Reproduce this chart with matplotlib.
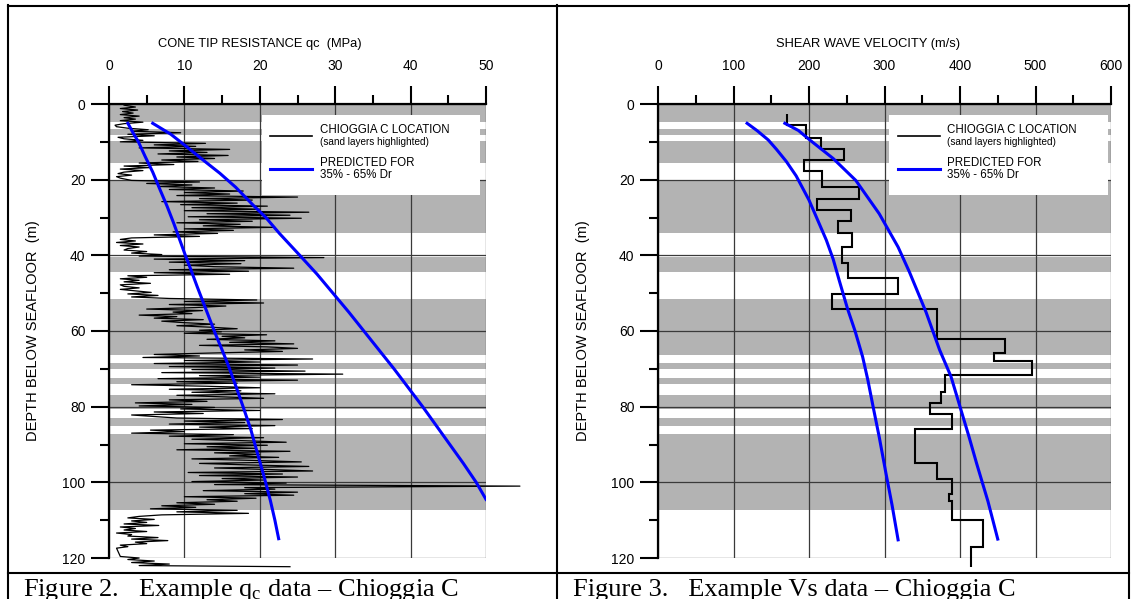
import numpy as np
import matplotlib
matplotlib.use('Agg')
import matplotlib.pyplot as plt
from matplotlib.lines import Line2D
from matplotlib.patches import Rectangle
from matplotlib.ticker import MultipleLocator

plt.rcParams['font.family'] = ['Liberation Sans', 'DejaVu Sans']
plt.rcParams['mathtext.fontset'] = 'custom'
plt.rcParams['mathtext.rm'] = 'Liberation Serif'
plt.rcParams['mathtext.it'] = 'Liberation Serif:italic'

# sand layers (top, bottom) in m below seafloor
sand_layers = [(0, 4.7), (6.7, 8.2), (9.7, 15.6), (20.3, 34.1), (40.5, 44.5),
               (51.5, 66.3), (68.4, 70.1), (72.5, 74.1), (77.0, 80.5),
               (82.9, 85.1), (87.3, 107.4)]

# CPT trace at Chioggia C: depth (m), qc (MPa)
cpt_depth = [0.3, 0.8, 1.2, 1.6, 2.0, 2.4, 2.8, 3.2, 3.6, 4.0, 4.4, 4.8, 5.2, 5.6,
             6.0, 6.4, 6.8, 7.2, 7.6, 8.0, 8.4, 8.8, 9.2, 9.6, 10.0, 10.4, 10.8,
             11.2, 11.6, 12.0, 12.4, 12.8, 13.2, 13.6, 14.0, 14.4, 14.8, 15.2,
             15.6, 16.0, 16.4, 16.8, 17.2, 17.6, 18.0, 18.4, 18.8, 19.2, 19.6,
             20.2, 20.6, 21.0, 21.4, 21.8, 22.2, 22.6, 23.0, 23.4, 23.8, 24.2,
             24.6, 25.0, 25.4, 25.8, 26.2, 26.6, 27.0, 27.4, 27.8, 28.2, 28.6,
             29.0, 29.4, 29.8, 30.2, 30.6, 31.0, 31.4, 31.8, 32.2, 32.6, 33.0,
             33.4, 33.8, 34.2, 34.6, 35.0, 35.4, 35.8, 36.2, 36.6, 37.0, 37.4,
             37.8, 38.2, 38.6, 39.0, 39.4, 39.8, 40.2, 40.6, 41.0, 41.4, 41.8,
             42.2, 42.6, 43.0, 43.4, 43.8, 44.2, 44.6, 45.0, 45.4, 45.8, 46.2,
             46.6, 47.0, 47.4, 47.8, 48.2, 48.6, 49.0, 49.4, 49.8, 50.2, 50.6,
             51.0, 51.4, 51.8, 52.2, 52.6, 53.0, 53.4, 53.8, 54.2, 54.6, 55.0,
             55.4, 55.8, 56.2, 56.6, 57.0, 57.4, 57.8, 58.2, 58.6, 59.0, 59.4,
             59.8, 60.2, 60.6, 61.0, 61.4, 61.8, 62.2, 62.6, 63.0, 63.4, 63.8,
             64.2, 64.6, 65.0, 65.4, 65.8, 66.2, 66.6, 67.0, 67.4, 67.8, 68.2,
             68.6, 69.0, 69.4, 69.8, 70.2, 70.6, 71.0, 71.4, 71.8, 72.2, 72.6,
             73.0, 73.4, 73.8, 74.2, 74.6, 75.0, 75.4, 75.8, 76.2, 76.6, 77.0,
             77.4, 77.8, 78.2, 78.6, 79.0, 79.4, 79.8, 80.2, 80.6, 81.0, 81.4,
             81.8, 82.2, 82.6, 83.0, 83.4, 83.8, 84.2, 84.6, 85.0, 85.4, 85.8,
             86.2, 86.6, 87.0, 87.4, 87.8, 88.2, 88.6, 89.0, 89.4, 89.8, 90.2,
             90.6, 91.0, 91.4, 91.8, 92.2, 92.6, 93.0, 93.4, 93.8, 94.2, 94.6,
             95.0, 95.4, 95.8, 96.2, 96.6, 97.0, 97.4, 97.8, 98.2, 98.6, 99.0,
             99.4, 99.8, 100.2, 100.6, 101.0, 101.4, 101.8, 102.2, 102.6, 103.0,
             103.4, 103.8, 104.2, 104.6, 105.0, 105.4, 105.8, 106.2, 106.6,
             107.0, 107.4, 107.8, 108.2, 108.6, 109.0, 109.4, 109.8, 110.2,
             110.6, 111.0, 111.4, 111.8, 112.2, 112.6, 113.0, 113.4, 113.8,
             114.2, 114.6, 115.0, 115.4, 115.8, 116.2, 116.6, 117.0, 117.4,
             119.6, 120.0, 120.4, 120.8, 121.2, 121.6, 122.0, 122.3]
cpt_qc = [2.0, 3.5, 1.5, 3.8, 1.8, 3.2, 1.5, 4.0, 2.0, 3.5, 1.5, 4.5, 2.0, 0.8,
          1.0, 2.5, 5.2, 3.0, 9.5, 2.5, 6.0, 1.2, 2.0, 4.5, 1.5, 12.8, 6.0,
          11.5, 4.0, 16.0, 8.0, 13.0, 6.5, 15.8, 9.0, 14.0, 7.0, 11.8,
          4.0, 8.6, 2.0, 5.5, 1.5, 4.5, 2.0, 1.2, 3.0, 1.0, 1.5,
          3.0, 12.0, 5.0, 11.0, 6.5, 14.0, 8.0, 17.8, 10.0, 16.0, 9.0,
          25.0, 12.0, 19.0, 7.0, 17.0, 9.5, 21.0, 11.0, 20.0, 10.0, 26.5,
          13.0, 24.0, 10.5, 25.5, 12.0, 19.0, 9.0, 17.4, 12.5, 22.0, 10.0,
          16.5, 8.5, 14.4, 6.0, 12.0, 3.0, 1.5, 3.5, 1.0, 4.5, 1.5,
          4.0, 2.5, 2.0, 5.0, 3.0, 7.0, 4.0, 28.5, 6.0, 18.0, 8.0,
          17.5, 10.0, 14.0, 24.5, 8.0, 18.5, 6.0, 16.0, 2.5, 5.0, 1.5,
          4.0, 2.0, 5.5, 1.5, 2.0, 4.0, 1.5, 3.5, 5.6, 2.5, 6.5,
          3.0, 8.0, 19.6, 10.0, 20.5, 8.0, 15.5, 11.5, 5.0, 12.4, 8.5,
          11.0, 4.0, 9.0, 6.0, 12.5, 7.0, 10.0, 14.0, 9.0, 13.5, 17.0,
          12.0, 14.9, 10.0, 20.9, 15.0, 18.0, 13.0, 22.0, 16.0, 24.5, 12.0,
          21.0, 25.0, 18.0, 23.0, 14.0, 6.0, 12.0, 4.5, 27.0, 10.0, 20.0,
          6.0, 25.0, 8.0, 22.0, 11.0, 26.0, 7.0, 31.0, 12.0, 20.0, 6.5,
          25.0, 9.0, 17.0, 3.0, 13.0, 20.0, 8.0, 17.5, 11.0, 22.0, 9.0,
          15.0, 20.5, 8.0, 13.0, 3.5, 11.0, 4.0, 14.0, 9.5, 20.0, 6.0,
          12.5, 3.0, 6.0, 9.0, 23.0, 10.0, 18.0, 8.0, 22.0, 12.0, 19.0,
          5.5, 10.0, 3.0, 16.5, 8.0, 20.5, 11.0, 18.0, 23.5, 10.0, 21.0,
          13.0, 19.5, 9.0, 24.0, 14.0, 20.0, 16.0, 22.5, 11.0, 19.0, 25.5,
          12.0, 18.5, 26.5, 14.0, 21.0, 27.0, 10.5, 23.0, 12.0, 25.0, 15.0,
          20.5, 11.0, 23.5, 14.0, 54.5, 18.0, 22.0, 12.5, 25.0, 18.0,
          24.5, 10.0, 19.5, 13.0, 17.0, 9.0, 14.0, 7.0, 11.5,
          5.5, 17.0, 9.0, 18.5, 7.0, 4.0, 2.5, 6.0, 3.0,
          5.0, 2.0, 6.6, 1.5, 3.5, 2.0, 5.0, 1.0, 3.0,
          2.5, 6.5, 3.0, 7.8, 3.5, 5.0, 1.5, 2.5, 1.0,
          1.5, 4.0, 2.5, 6.0, 3.0, 8.0, 4.0, 24.0]

# predicted qc for 35% - 65% Dr
qc_lo_depth = [5.1, 8.0, 10.0, 13.9, 18.0, 22.8, 27.0, 31.6, 36.0, 40.4, 44.0,
               48.3, 54.5, 60.7, 65.0, 69.5, 75.0, 80.1, 86.0, 92.4, 98.0,
               104.8, 110.0, 114.9]
qc_lo = [2.5, 3.3, 3.9, 4.8, 5.8, 6.8, 7.7, 8.6, 9.4, 10.2, 10.9,
         11.7, 12.9, 14.1, 15.0, 15.9, 16.9, 17.8, 18.8, 19.7, 20.5,
         21.4, 22.0, 22.5]
qc_hi_depth = [5.1, 8.0, 11.3, 15.0, 18.3, 22.0, 26.7, 30.0, 34.2, 40.0, 45.0,
               50.0, 55.0, 60.0, 65.0, 70.0, 75.0, 80.0, 85.0, 90.0, 95.0,
               100.0, 104.5]
qc_hi = [5.8, 8.2, 10.3, 12.6, 14.7, 16.8, 19.1, 20.8, 22.6, 25.3, 27.6,
         29.7, 31.8, 33.8, 35.8, 37.8, 39.7, 41.6, 43.4, 45.2, 47.0,
         48.7, 50.0]

# Vs profile at Chioggia C (layer boundaries and velocities)
vs_edges = [2.6, 5.6, 8.9, 12.0, 14.8, 17.6, 21.9, 25.0, 27.9, 30.9, 34.0, 37.7,
            42.0, 46.0, 50.1, 54.1, 62.0, 65.8, 68.0, 71.5, 76.0, 79.0, 82.0,
            86.0, 95.0, 99.0, 103.0, 105.0, 110.0, 117.0, 122.5]
vs_vals = [171, 196, 216, 246, 193, 217, 266, 210, 256, 238, 257, 244, 251,
           318, 230, 370, 460, 445, 495, 380, 375, 360, 390, 340, 370, 390,
           385, 390, 430, 415]

# predicted Vs for 35% - 65% Dr
vs_lo_depth = [5.1, 7.0, 9.5, 12.0, 15.2, 19.0, 25.4, 30.0, 36.0, 41.0, 46.6,
               54.1, 60.0, 66.8, 73.0, 80.1, 88.0, 97.7, 106.0, 115.2]
vs_lo = [118, 131, 146, 157, 170, 183, 200, 210, 223, 232, 240,
         251, 261, 271, 278, 285, 293, 302, 310, 318]
vs_hi_depth = [5.1, 7.0, 9.5, 14.4, 20.2, 29.0, 37.8, 44.4, 55.0, 65.0, 72.0,
               80.0, 88.0, 95.0, 105.0, 115.0]
vs_hi = [168, 186, 201, 232, 262, 293, 318, 333, 355, 373, 388,
         400, 412, 422, 437, 450]

W, H = 1132, 599
BAND = '#b3b3b3'
BLUE = '#0000ff'


def fx(px):
    return px / W


def fy(py):
    return 1 - py / H


def setup_axes(ax, xmax, xmajor, xminor):
    ax.set_xlim(0, xmax)
    ax.set_ylim(120, 0)
    for top, bot in sand_layers:
        ax.axhspan(top, bot, color=BAND, lw=0, zorder=0.5)
    ax.xaxis.tick_top()
    ax.xaxis.set_major_locator(MultipleLocator(xmajor))
    ax.xaxis.set_minor_locator(MultipleLocator(xminor))
    ax.yaxis.set_major_locator(MultipleLocator(20))
    ax.yaxis.set_minor_locator(MultipleLocator(10))
    ax.tick_params(which='major', direction='out', length=13, width=1.5,
                   labelsize=10, pad=9)
    ax.tick_params(which='minor', direction='out', length=6.5, width=1.5)
    ax.tick_params(axis='y', which='major', pad=4)
    ax.tick_params(axis='x', which='minor', top=True, bottom=False)
    for s in ['bottom', 'right']:
        ax.spines[s].set_visible(False)
    for s in ['top', 'left']:
        ax.spines[s].set_linewidth(1.6)
        ax.spines[s].set_zorder(6)
    ax.grid(True, which='major', color='#3a3a3a', lw=0.9, zorder=1)
    ax.patch.set_alpha(0)


def legend_box(ax, x0, x1, lx0, lx1, tx):
    ax.add_patch(Rectangle((x0, 2.9), x1 - x0, 21.2, facecolor='white',
                           edgecolor='none', zorder=2))
    ax.plot([lx0, lx1], [8.4, 8.4], color='black', lw=1.2, zorder=3)
    ax.plot([lx0, lx1], [17.3, 17.3], color=BLUE, lw=2.2, zorder=3)
    ax.text(tx, 7.0, 'CHIOGGIA C LOCATION', fontsize=8.3, va='center', zorder=3)
    ax.text(tx, 10.1, '(sand layers highlighted)', fontsize=7.2, va='center', zorder=3)
    ax.text(tx, 15.6, 'PREDICTED FOR', fontsize=8.3, va='center', zorder=3)
    ax.text(tx, 18.8, '35% - 65% Dr', fontsize=8.3, va='center', zorder=3)


fig = plt.figure(figsize=(W / 100, H / 100), dpi=100)

ax1 = fig.add_axes([fx(109), fy(558), fx(486) - fx(109), fy(104) - fy(558)])
setup_axes(ax1, 50, 10, 5)
legend_box(ax1, 20.3, 49.2, 21.4, 26.9, 28.0)
ax1.plot(cpt_qc, cpt_depth, color='black', lw=0.9, zorder=4, clip_on=False)
ax1.plot(qc_lo, qc_lo_depth, color=BLUE, lw=2.2, zorder=5)
ax1.plot(qc_hi, qc_hi_depth, color=BLUE, lw=2.2, zorder=5)

ax2 = fig.add_axes([fx(658), fy(558), fx(1111) - fx(658), fy(104) - fy(558)])
setup_axes(ax2, 600, 100, 50)
legend_box(ax2, 306, 596, 318, 373, 383)
ax2.stairs(vs_vals, vs_edges, orientation='horizontal', baseline=None,
           color='black', lw=1.5, zorder=4, clip_on=False)
ax2.plot(vs_lo, vs_lo_depth, color=BLUE, lw=2.2, zorder=5)
ax2.plot(vs_hi, vs_hi_depth, color=BLUE, lw=2.2, zorder=5)

# axis titles
fig.text(fx(260), fy(44), 'CONE TIP RESISTANCE qc  (MPa)', fontsize=9.3,
         ha='center', va='center')
fig.text(fx(868), fy(44), 'SHEAR WAVE VELOCITY (m/s)', fontsize=9.3,
         ha='center', va='center')
fig.text(fx(33), fy(331), 'DEPTH BELOW SEAFLOOR  (m)', fontsize=10.5,
         rotation=90, ha='center', va='center')
fig.text(fx(583), fy(331), 'DEPTH BELOW SEAFLOOR  (m)', fontsize=10.5,
         rotation=90, ha='center', va='center')

# captions
cap = dict(fontsize=19, family='Liberation Serif', ha='left', va='baseline')
fig.text(fx(23), fy(596), 'Figure 2.   Example q$_\\mathrm{c}$ data \u2013 Chioggia C', **cap)
fig.text(fx(573), fy(596), 'Figure 3.   Example Vs data \u2013 Chioggia C', **cap)

# table frame
for xs, ys in [([8, 8], [5, 599]), ([557, 557], [5, 599]), ([1129, 1129], [5, 599]),
               ([8, 1129], [5.5, 5.5]), ([8, 1129], [573, 573])]:
    fig.add_artist(Line2D([fx(x) for x in xs], [fy(y) for y in ys],
                          color='black', lw=1.5))

fig.savefig('out.png', dpi=100)
